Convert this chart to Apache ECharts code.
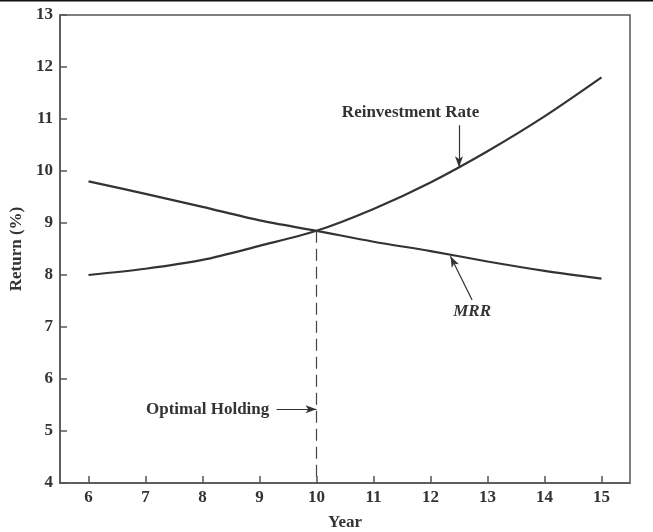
<!DOCTYPE html>
<html><head><meta charset="utf-8">
<script src="https://cdn.jsdelivr.net/npm/echarts@6/dist/echarts.min.js"></script>
<style>html,body{margin:0;padding:0;background:#fff}#c{width:653px;height:532px}</style>
</head><body><div id="c"></div>
<script>
var years = [6, 7, 8, 9, 10, 11, 12, 13, 14, 15];
var reinvestmentRate = [8.0, 8.12, 8.29, 8.56, 8.85, 9.27, 9.78, 10.38, 11.05, 11.8];
var mrr = [9.8, 9.56, 9.31, 9.05, 8.85, 8.64, 8.46, 8.26, 8.08, 7.93];
var yTicks = [4, 5, 6, 7, 8, 9, 10, 11, 12, 13];
var optimalYear = 10;
var crossValue = 8.85;

var FONT = '"Liberation Serif", "DejaVu Serif", serif';
var TXT = '#333';
var LINE = '#333';
var AX = '#555';
var FS = 17;

function pairs(xs, ys) { return xs.map(function (x, i) { return [x, ys[i]]; }); }

var chart = echarts.init(document.getElementById('c'), null, { renderer: 'canvas' });
chart.setOption({
  animation: false,
  backgroundColor: '#fff',
  grid: { left: 60, top: 15, right: 23, bottom: 49, outerBoundsMode: 'none', containLabel: false, show: true, borderColor: AX, borderWidth: 1.5, backgroundColor: 'transparent' },
  xAxis: {
    type: 'value', min: 5.5, max: 15.5,
    name: 'Year', nameLocation: 'middle', nameGap: 31,
    nameTextStyle: { fontFamily: FONT, fontWeight: 'bold', fontSize: FS, color: TXT },
    axisLine: { lineStyle: { color: AX, width: 1.5 } },
    axisTick: { inside: true, length: 7, lineStyle: { color: AX, width: 1.5 }, customValues: years },
    axisLabel: { customValues: years, fontFamily: FONT, fontWeight: 'bold', fontSize: FS, color: TXT, margin: 6 },
    splitLine: { show: false }
  },
  yAxis: {
    type: 'value', min: 4, max: 13, interval: 1,
    name: 'Return (%)', nameLocation: 'middle', nameGap: 35, nameRotate: 90,
    nameTextStyle: { fontFamily: FONT, fontWeight: 'bold', fontSize: FS, color: TXT },
    axisLine: { lineStyle: { color: AX, width: 1.5 } },
    axisTick: { inside: true, length: 7, lineStyle: { color: AX, width: 1.5 }, customValues: yTicks },
    axisLabel: { customValues: yTicks, fontFamily: FONT, fontWeight: 'bold', fontSize: FS, color: TXT, margin: 7 },
    splitLine: { show: false }
  },
  series: [
    {
      name: 'Reinvestment Rate', type: 'line', data: pairs(years, reinvestmentRate),
      smooth: 0.3, symbol: 'none', lineStyle: { color: LINE, width: 2.2 },
      markLine: {
        silent: true, symbol: ['none', 'arrow'], symbolSize: [6, 11],
        label: { show: false },
        lineStyle: { color: LINE, width: 1.2, type: 'solid' },
        data: [
          [{ coord: [12.5, 10.88] }, { coord: [12.5, 10.07] }],
          [{ coord: [12.73, 7.52] }, { coord: [12.35, 8.36] }],
          [{ coord: [9.3, 5.42] }, { coord: [10.0, 5.42] }]
        ]
      },
      markPoint: {
        silent: true, symbol: 'circle', symbolSize: 0,
        data: [
          { coord: [11.65, 11.13], label: { show: true, position: 'inside', formatter: 'Reinvestment Rate', fontFamily: FONT, fontWeight: 'bold', fontSize: FS, color: TXT } },
          { coord: [12.73, 7.3], label: { show: true, position: 'inside', formatter: 'MRR', fontFamily: FONT, fontWeight: 'bold', fontStyle: 'italic', fontSize: FS, color: TXT } },
          { coord: [8.09, 5.42], label: { show: true, position: 'inside', formatter: 'Optimal Holding', fontFamily: FONT, fontWeight: 'bold', fontSize: FS, color: TXT } }
        ]
      }
    },
    {
      name: 'MRR', type: 'line', data: pairs(years, mrr),
      smooth: 0.3, symbol: 'none', lineStyle: { color: LINE, width: 2.2 },
      markLine: {
        silent: true, symbol: ['none', 'none'],
        label: { show: false },
        lineStyle: { color: '#444', width: 1.2, type: [12, 6] },
        data: [
          [{ coord: [optimalYear, crossValue] }, { coord: [optimalYear, 4] }]
        ]
      }
    }
  ],
  graphic: [
    { type: 'line', shape: { x1: 0, y1: 0.5, x2: 653, y2: 0.5 }, style: { stroke: '#111', lineWidth: 2 } }
  ]
});
</script>
</body></html>
